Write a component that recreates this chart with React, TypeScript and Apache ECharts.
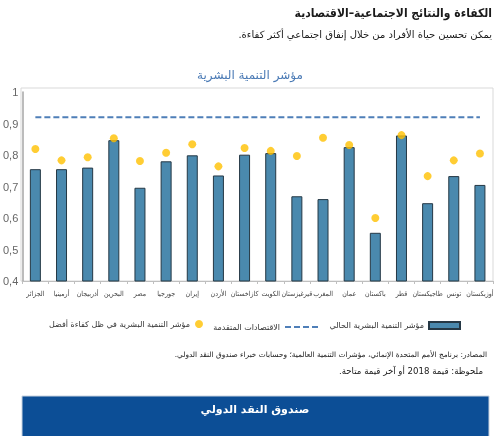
import React, { useEffect, useRef } from "react";
import * as echarts from "echarts";

const CATEGORIES = [
  "الجزائر", "أرمينيا", "أذربيجان", "البحرين", "مصر", "جورجيا", "إيران", "الأردن", "كازاخستان",
  "الكويت", "قيرغيزستان", "المغرب", "عمان", "باكستان", "قطر", "طاجيكستان", "تونس", "أوزبكستان",
];
const HDI_CURRENT = [
  0.755, 0.755, 0.76, 0.847, 0.696, 0.78, 0.799, 0.735, 0.801,
  0.806, 0.669, 0.66, 0.825, 0.553, 0.862, 0.647, 0.733, 0.705,
];
const HDI_EFFICIENT = [
  0.819, 0.783, 0.793, 0.853, 0.781, 0.807, 0.834, 0.764, 0.822,
  0.813, 0.797, 0.855, 0.832, 0.6, 0.863, 0.733, 0.783, 0.805,
];
const ADVANCED_ECONOMIES = 0.92;

const NAME_CURRENT = "مؤشر التنمية البشرية الحالي";
const NAME_ADVANCED = "الاقتصادات المتقدمة";
const NAME_EFFICIENT = "مؤشر التنمية البشرية في ظل كفاءة أفضل";

const RLM = "\u200F";
const TITLE = "الكفاءة والنتائج الاجتماعية–الاقتصادية";
const SUBTITLE = "يمكن تحسين حياة الأفراد من خلال إنفاق اجتماعي أكثر كفاءة." + RLM;
const CHART_TITLE = "مؤشر التنمية البشرية";
const SOURCE = "المصادر: برنامج الأمم المتحدة الإنمائي، مؤشرات التنمية العالمية؛ وحسابات خبراء صندوق النقد الدولي." + RLM;
const NOTE = "ملحوظة: قيمة 2018 أو آخر قيمة متاحة." + RLM;
const BANNER = "صندوق النقد الدولي";

const FONT = "DejaVu Sans";
const FONT_C = "DejaVu Sans Condensed";
const DASH_ICON = "path://M0 0H6V2H0Z M9 0H15V2H9Z M18 0H24V2H18Z M27 0H33V2H27Z";

export default function App() {
  const ref = useRef<HTMLDivElement>(null);
  useEffect(() => {
    if (!ref.current) return;
    const chart = echarts.init(ref.current, null, { renderer: "svg" });
    const legendText = { fontFamily: FONT, fontSize: 8, color: "#333" };
    chart.setOption({
      animation: false,
      textStyle: { fontFamily: FONT },
      grid: { left: 21, right: 7, top: 92, bottom: 155, containLabel: false },
      legend: [
        {
          data: [{ name: NAME_EFFICIENT, icon: "circle" }],
          right: 292, top: 315, align: "right", itemWidth: 8, itemHeight: 8, itemGap: 5,
          textStyle: legendText, selectedMode: false,
        },
        {
          data: [{ name: NAME_ADVANCED, icon: DASH_ICON }],
          right: 177, top: 318, align: "right", itemWidth: 33, itemHeight: 2.5, itemGap: 5,
          textStyle: legendText, selectedMode: false,
        },
        {
          data: [{ name: NAME_CURRENT, icon: "rect" }],
          right: 34, top: 316, align: "right", itemWidth: 31, itemHeight: 7, itemGap: 5,
          textStyle: legendText, selectedMode: false,
        },
      ],
      xAxis: {
        type: "category",
        data: CATEGORIES,
        axisLine: { lineStyle: { color: "#bfbfbf", width: 1 } },
        axisTick: { show: true, length: 3, lineStyle: { color: "#bfbfbf" } },
        axisLabel: { interval: 0, fontSize: 7, color: "#404040", margin: 9, fontFamily: FONT_C },
      },
      yAxis: {
        type: "value",
        min: 0.4,
        max: 1,
        interval: 0.1,
        splitLine: { show: false },
        axisLine: { show: true, lineStyle: { color: "#a6a6a6", width: 1.5 } },
        axisTick: { show: false },
        axisLabel: {
          fontSize: 11,
          color: "#666",
          margin: 4,
          fontFamily: "Liberation Sans",
          formatter: (v: number) => (Math.abs(v - 1) < 1e-9 ? "1" : v.toFixed(1).replace(".", ",")),
        },
      },
      series: [
        {
          name: NAME_CURRENT,
          type: "bar",
          data: HDI_CURRENT,
          barWidth: 11,
          itemStyle: { color: "#4a89ae", borderColor: "#253845", borderWidth: 1 },
        },
        {
          name: NAME_ADVANCED,
          type: "line",
          data: CATEGORIES.map(() => ADVANCED_ECONOMIES),
          symbol: "none",
          lineStyle: { color: "#4f7fb8", width: 2, type: [6, 3] },
          itemStyle: { color: "#4f7fb8" },
        },
        {
          name: NAME_EFFICIENT,
          type: "scatter",
          data: HDI_EFFICIENT,
          symbolSize: 8,
          itemStyle: { color: "#ffc000" },
          z: 5,
        },
      ],
      graphic: [
        {
          type: "rect",
          silent: true,
          z: -1,
          shape: { x: 21, y: 88, width: 472, height: 193 },
          style: { fill: "none", stroke: "#d9d9d9", lineWidth: 1 },
        },
        {
          type: "text",
          right: 8, top: 7,
          style: { text: TITLE, font: `bold 12px "${FONT_C}", "${FONT}"`, fill: "#1a1a1a" },
        },
        {
          type: "text",
          right: 8, top: 29,
          style: { text: SUBTITLE, font: `10px "${FONT}"`, fill: "#1a1a1a" },
        },
        {
          type: "text",
          x: 250, y: 75,
          style: { text: CHART_TITLE, font: `12px "${FONT}"`, fill: "#4a7ab5", align: "center", verticalAlign: "middle" },
        },
        {
          type: "text",
          right: 13, top: 351,
          style: { text: SOURCE, font: `7.4px "${FONT}"`, fill: "#1a1a1a" },
        },
        {
          type: "text",
          right: 17, top: 366,
          style: { text: NOTE, font: `8.6px "${FONT}"`, fill: "#1a1a1a" },
        },
        {
          type: "rect",
          shape: { x: 22, y: 396, width: 467, height: 45 },
          style: { fill: "#0c4e96", stroke: "#c8d3e0", lineWidth: 1 },
        },
        {
          type: "text",
          x: 255, y: 409,
          style: { text: BANNER, font: `bold 11px "${FONT}"`, fill: "#ffffff", align: "center", verticalAlign: "middle" },
        },
      ],
    });
    return () => chart.dispose();
  }, []);
  return <div ref={ref} style={{ position: "fixed", left: 0, top: 0, width: 500, height: 436 }} />;
}
